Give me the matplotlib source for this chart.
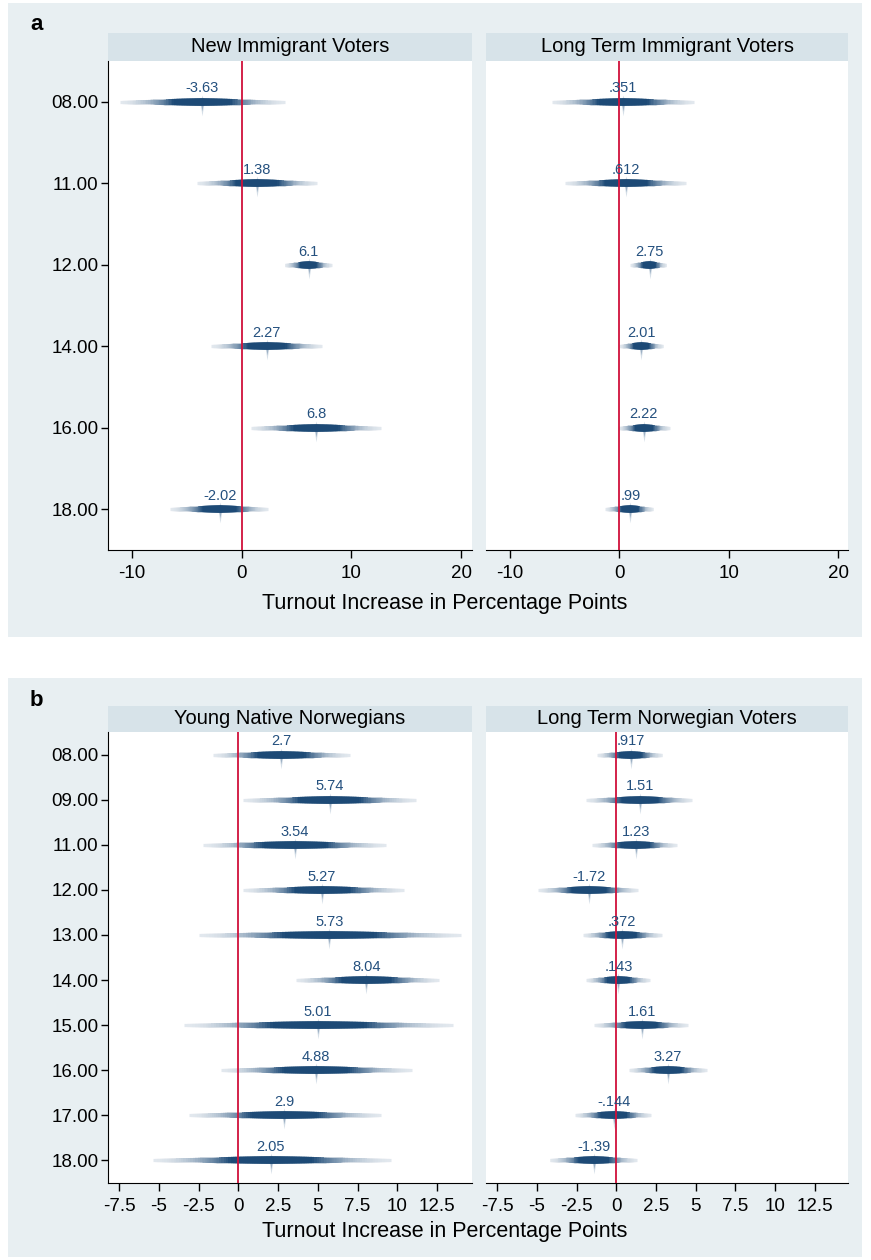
import numpy as np
import matplotlib
matplotlib.use("Agg")
import matplotlib.pyplot as plt
from matplotlib.patches import Rectangle

plt.rcParams['font.family'] = ['Liberation Sans', 'DejaVu Sans']

# ---- data (estimates and 95% CI bounds) ----
years_a = ["08.00", "11.00", "12.00", "14.00", "16.00", "18.00"]
new_imm_est = [-3.63, 1.38, 6.1, 2.27, 6.8, -2.02]
new_imm_lo = [-11.1, -4.1, 3.9, -2.8, 0.8, -6.5]
new_imm_hi = [3.9, 6.9, 8.2, 7.3, 12.7, 2.4]
long_imm_est = [0.351, 0.612, 2.75, 2.01, 2.22, 0.99]
long_imm_lo = [-6.2, -5.0, 1.0, 0.0, -0.1, -1.3]
long_imm_hi = [6.8, 6.1, 4.3, 4.0, 4.6, 3.1]

years_b = ["08.00", "09.00", "11.00", "12.00", "13.00",
           "14.00", "15.00", "16.00", "17.00", "18.00"]
young_est = [2.7, 5.74, 3.54, 5.27, 5.73, 8.04, 5.01, 4.88, 2.9, 2.05]
young_lo = [-1.6, 0.3, -2.2, 0.3, -2.5, 3.6, -3.4, -1.1, -3.1, -5.4]
young_hi = [7.0, 11.2, 9.3, 10.4, 14.0, 12.6, 13.5, 10.9, 9.0, 9.6]
longnor_est = [0.917, 1.51, 1.23, -1.72, 0.372, 0.143, 1.61, 3.27, -0.144, -1.39]
longnor_lo = [-1.2, -1.9, -1.5, -4.9, -2.1, -1.9, -1.4, 0.8, -2.6, -4.2]
longnor_hi = [2.9, 4.8, 3.8, 1.4, 2.9, 2.1, 4.5, 5.7, 2.2, 1.3]

W, H = 871, 1260
BG = '#e8eff2'
STRIP = '#d7e3e9'
DARK = np.array(matplotlib.colors.to_rgb('#1d4a76'))
LIGHT = np.array(matplotlib.colors.to_rgb('#e2e8ee'))
RED = '#d0103a'
LABEL = '#24507e'

fig = plt.figure(figsize=(W / 100, H / 100), dpi=100)


def fig_rect(x0, y0, x1, y1, color):
    fig.add_artist(Rectangle((x0 / W, 1 - y1 / H), (x1 - x0) / W, (y1 - y0) / H,
                             transform=fig.transFigure, color=color, zorder=0, lw=0))


def stata_fmt(v):
    s = f"{v:.3g}"
    return s.replace("0.", ".", 1) if s.startswith(("0.", "-0.")) else s


kite = [(0, 6), (1.8, 0), (0, -12), (-1.8, 0), (0, 6)]


def smooth_ci(ax, y, est, lo, hi):
    n = 50
    for j in range(n):
        f = 1 - j / n
        t = min(1.0, (1 - f) / 0.65) ** 1.8
        c = LIGHT + (DARK - LIGHT) * t
        ax.plot([est - (est - lo) * f, est + (hi - est) * f], [y, y],
                color=c, lw=2.3 + 2.2 * t, solid_capstyle='butt', zorder=2)
    ax.plot([est], [y], marker=kite, ms=20, color='#d5dee7', mew=0, zorder=1.5)
    ax.plot([est], [y], marker=kite, ms=13, color='#9db1c5', mew=0, zorder=1.6)
    ax.annotate(stata_fmt(est), (est, y), xytext=(0, 4.5), textcoords='offset points',
                ha='center', va='bottom', fontsize=10.5, color=LABEL, zorder=4)


def facet(x0, x1, y_strip, y_top, y_bot, title, cats, est, lo, hi, xlim, xticks,
          xticklabels, left):
    ax = fig.add_axes([x0 / W, 1 - y_bot / H, (x1 - x0) / W, (y_bot - y_top) / H])
    fig_rect(x0, y_strip, x1, y_top, STRIP)
    fig.text((x0 + x1) / 2 / W, 1 - (y_strip + y_top) / 2 / H, title,
             ha='center', va='center', fontsize=14.5)
    pos = np.arange(1, len(cats) + 1)
    for p, e, l, h in zip(pos, est, lo, hi):
        smooth_ci(ax, p, e, l, h)
    ax.axvline(0, color=RED, lw=1.3, zorder=3)
    ax.set_xlim(*xlim)
    ax.set_ylim(len(cats) + 0.5, 0.5)
    ax.set_xticks(xticks)
    ax.set_xticklabels(xticklabels, fontsize=13.5)
    ax.tick_params(axis='x', length=6, width=1, pad=5)
    for s in ['top', 'right']:
        ax.spines[s].set_visible(False)
    if left:
        ax.set_yticks(pos)
        ax.set_yticklabels(cats, fontsize=13.5)
        ax.tick_params(axis='y', length=5, width=1, pad=2)
    else:
        ax.spines['left'].set_visible(False)
        ax.set_yticks([])
    return ax


# panel a
fig_rect(8, 3, 862, 637, BG)
fig.text(30 / W, 1 - 25 / H, "a", fontsize=16, fontweight='bold', va='center')
ticks_a = [-10, 0, 10, 20]
lab_a = ["-10", "0", "10", "20"]
facet(108, 472, 33, 61, 550, "New Immigrant Voters", years_a,
      new_imm_est, new_imm_lo, new_imm_hi, (-12.2, 21.0), ticks_a, lab_a, True)
facet(486, 848, 33, 61, 550, "Long Term Immigrant Voters", years_a,
      long_imm_est, long_imm_lo, long_imm_hi, (-12.2, 20.9), ticks_a, lab_a, False)
fig.text(445 / W, 1 - 603 / H, "Turnout Increase in Percentage Points",
         ha='center', va='center', fontsize=15.5)

# panel b
fig_rect(8, 678, 862, 1257, BG)
fig.text(30 / W, 1 - 700 / H, "b", fontsize=16, fontweight='bold', va='center')
ticks_b = [-7.5, -5, -2.5, 0, 2.5, 5, 7.5, 10, 12.5]
lab_b = ["-7.5", "-5", "-2.5", "0", "2.5", "5", "7.5", "10", "12.5"]
facet(108, 472, 706, 732, 1183, "Young Native Norwegians", years_b,
      young_est, young_lo, young_hi, (-8.2, 14.7), ticks_b, lab_b, True)
facet(486, 848, 706, 732, 1183, "Long Term Norwegian Voters", years_b,
      longnor_est, longnor_lo, longnor_hi, (-8.2, 14.6), ticks_b, lab_b, False)
fig.text(445 / W, 1 - 1231 / H, "Turnout Increase in Percentage Points",
         ha='center', va='center', fontsize=15.5)

fig.savefig("out.png", dpi=100)
